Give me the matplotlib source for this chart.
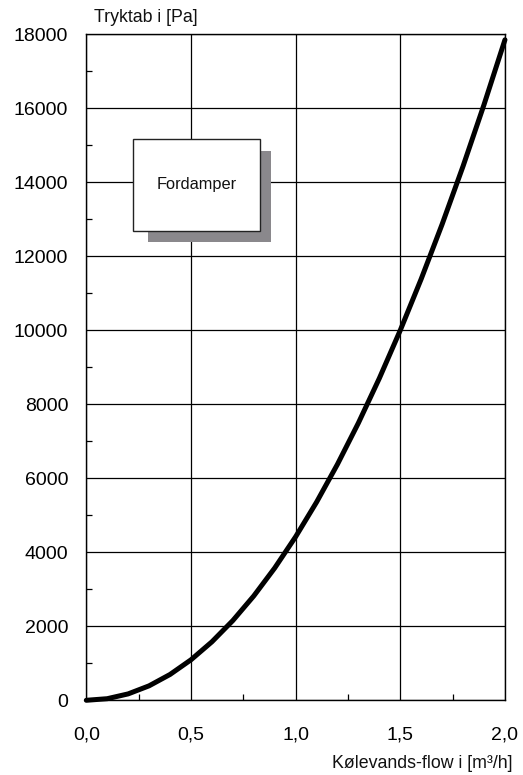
import matplotlib.pyplot as plt
from matplotlib.patches import Rectangle
from matplotlib.ticker import MultipleLocator

plt.rcParams['font.family'] = ['Liberation Sans', 'DejaVu Sans']

# Kølevands-flow [m3/h] og tryktab [Pa] for fordamperen
flow = [0.0, 0.1, 0.2, 0.3, 0.4, 0.5, 0.6, 0.7, 0.8, 0.9, 1.0,
        1.1, 1.2, 1.3, 1.4, 1.5, 1.6, 1.7, 1.8, 1.9, 2.0]
tryktab = [0, 43, 173, 391, 698, 1094, 1580, 2155, 2820, 3575, 4420,
           5355, 6381, 7497, 8704, 10002, 11390, 12869, 14439, 16100, 17852]

x_ticks = [0.0, 0.5, 1.0, 1.5, 2.0]
x_labels = ['0,0', '0,5', '1,0', '1,5', '2,0']
y_ticks = [0, 2000, 4000, 6000, 8000, 10000, 12000, 14000, 16000, 18000]

fig = plt.figure(figsize=(5.23, 7.75), dpi=100)
ax = fig.add_axes([0.165, 0.0964, 0.8005, 0.8593])

ax.plot(flow, tryktab, color='black', linewidth=3.6,
        solid_capstyle='round', solid_joinstyle='round', zorder=5, clip_on=False)

ax.set_xlim(0, 2.0)
ax.set_ylim(0, 18000)
ax.set_xticks(x_ticks)
ax.set_xticklabels(x_labels)
ax.set_yticks(y_ticks)
ax.xaxis.set_minor_locator(MultipleLocator(0.25))
ax.yaxis.set_minor_locator(MultipleLocator(1000))

ax.grid(True, which='major', color='black', linewidth=0.9)
ax.tick_params(which='major', length=0, labelsize=14, colors='black')
ax.tick_params(axis='x', which='major', pad=19)
ax.tick_params(axis='y', which='major', pad=13)
ax.tick_params(which='minor', direction='in', length=4, width=0.9, color='black')
for s in ax.spines.values():
    s.set_linewidth(1.0)
    s.set_color('black')

# Boks med skygge
shadow = Rectangle((0.1465, 0.6887), 0.295, 0.1367, transform=ax.transAxes,
                   facecolor='#8a888c', edgecolor='none', zorder=3)
box = Rectangle((0.111, 0.7051), 0.304, 0.1377, transform=ax.transAxes,
                facecolor='white', edgecolor='#222222', linewidth=1.0, zorder=4)
ax.add_patch(shadow)
ax.add_patch(box)
ax.text(0.263, 0.7739, 'Fordamper', transform=ax.transAxes,
        ha='center', va='center', fontsize=11.8, color='#111111', zorder=6)

fig.text(94 / 523, 1 - 17 / 775, 'Tryktab i [Pa]', ha='left', va='center',
         fontsize=12.8, color='#111111')
fig.text(513 / 523, 1 - 764 / 775, 'Kølevands-flow i [m³/h]', ha='right',
         va='center', fontsize=12.8, color='#111111')

fig.savefig('out.png', dpi=100)
